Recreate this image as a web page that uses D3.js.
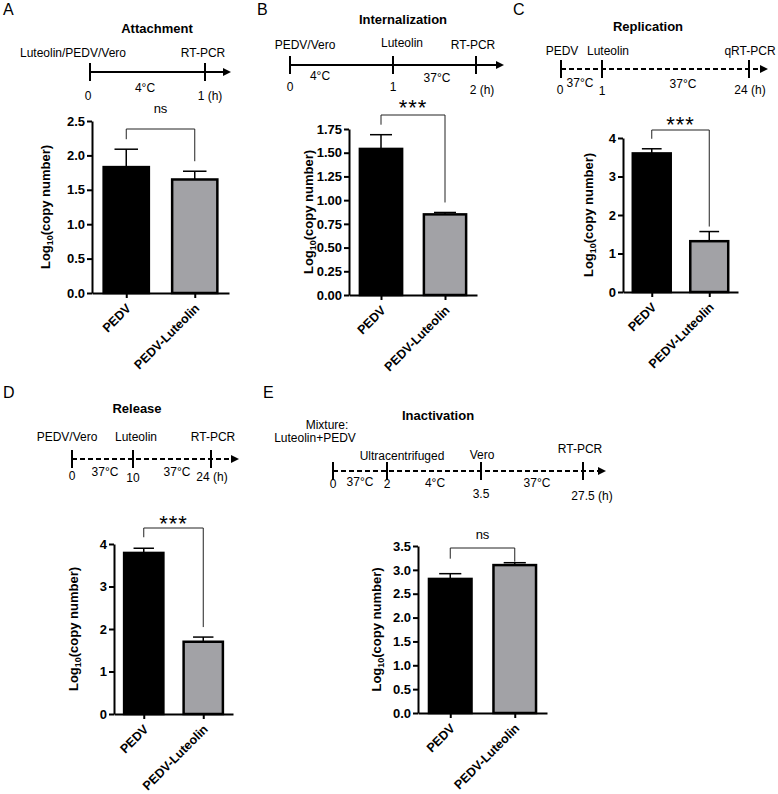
<!DOCTYPE html>
<html><head><meta charset="utf-8">
<script src="https://cdn.jsdelivr.net/npm/d3@7"></script>
<style>
body{margin:0;background:#fff}
svg{display:block}
text{font-family:Arial,"Liberation Sans",sans-serif;fill:#000}
</style>
</head><body>
<svg id="fig" width="778" height="794"></svg>
<script>
// ---------------- DATA ----------------
const categories = ["PEDV", "PEDV-Luteolin"];
const barColors = ["#000000", "#a2a2a6"];

const attachmentMean = [1.83, 1.65];
const attachmentErr  = [0.26, 0.12];
const attachmentTicks = [0, 0.5, 1.0, 1.5, 2.0, 2.5];

const internalizationMean = [1.54, 0.85];
const internalizationErr  = [0.15, 0.02];
const internalizationTicks = [0, 0.25, 0.5, 0.75, 1.0, 1.25, 1.5, 1.75];

const replicationMean = [3.60, 1.32];
const replicationErr  = [0.12, 0.25];
const replicationTicks = [0, 1, 2, 3, 4];

const releaseMean = [3.79, 1.70];
const releaseErr  = [0.11, 0.11];
const releaseTicks = [0, 1, 2, 3, 4];

const inactivationMean = [2.81, 3.10];
const inactivationErr  = [0.11, 0.05];
const inactivationTicks = [0, 0.5, 1.0, 1.5, 2.0, 2.5, 3.0, 3.5];

const panelLetters = ["A", "B", "C", "D", "E"];
const panelTitles = ["Attachment", "Internalization", "Replication", "Release", "Inactivation"];
const significance = ["ns", "***", "***", "***", "ns"];

// timeline texts
const tlA = ["Luteolin/PEDV/Vero", "RT-PCR", "0", "4°C", "1 (h)"];
const tlB = ["PEDV/Vero", "Luteolin", "RT-PCR", "0", "4°C", "1", "37°C", "2 (h)"];
const tlC = ["PEDV", "Luteolin", "qRT-PCR", "0", "37°C", "1", "37°C", "24 (h)"];
const tlD = ["PEDV/Vero", "Luteolin", "RT-PCR", "0", "37°C", "10", "37°C", "24 (h)"];
const tlE = ["Mixture:", "Luteolin+PEDV", "Ultracentrifuged", "Vero", "RT-PCR", "0", "37°C", "2", "4°C", "3.5", "37°C", "27.5 (h)"];

// ---------------- LAYOUT ----------------
const svg = d3.select("#fig");

const letterPos = [[3,15],[257,15],[513,15],[3,398],[263,398]];

const timelineLayouts = [
  {y:72, xs:90, xe:231, ticks:[90,205], dashed:false, title:[157,33],
   pos:[[73,57],[203,57],[88,100],[145,92],[210,100]]},
  {y:65, xs:290, xe:504, ticks:[290,393,476], dashed:false, title:[403,24],
   pos:[[305,49],[402,47],[473,49],[290,91],[320,80],[393,91],[437,82],[482,94]]},
  {y:69, xs:561, xe:768, ticks:[561,602,749], dashed:true, title:[648,31],
   pos:[[562,55],[608,55],[750,55],[560,94],[580,87],[602,95],[683,88],[750,94]]},
  {y:459, xs:72, xe:239, ticks:[72,133,211], dashed:true, title:[137,413],
   pos:[[67,441],[136,441],[213,441],[72,480],[105,476],[133,482],[177,476],[212,481]]},
  {y:471, xs:333, xe:606, ticks:[333,387,481,583], dashed:true, title:[438,420],
   pos:[[327,429],[315,442],[402,460],[482,459],[580,453],[333,488],[360,486],[387,488],[435,487],[481,498],[537,487],[592,500]]}
];
const timelineTexts = [tlA, tlB, tlC, tlD, tlE];

const chartLayouts = [
  {x0:92, x1:229, y0:293, yTop:121, labelX:50, fmt:".1f", brY:129, gapL:10, gapR:10, sigY:113, sigSize:13},
  {x0:349, x1:477, y0:295, yTop:129, labelX:313, fmt:".2f", brY:115, gapL:10, gapR:10, sigY:115, sigSize:22},
  {x0:623, x1:738, y0:292, yTop:138, labelX:593, fmt:"d", brY:130, gapL:10, gapR:5, sigY:132, sigSize:22},
  {x0:114, x1:233, y0:714, yTop:544, labelX:78, fmt:"d", brY:528, gapL:11, gapR:10, sigY:531, sigSize:22},
  {x0:418, x1:547, y0:713, yTop:546, labelX:381, fmt:".1f", brY:548, gapL:15, gapR:1, sigY:539, sigSize:13}
];
const means = [attachmentMean, internalizationMean, replicationMean, releaseMean, inactivationMean];
const errs = [attachmentErr, internalizationErr, replicationErr, releaseErr, inactivationErr];
const tickSets = [attachmentTicks, internalizationTicks, replicationTicks, releaseTicks, inactivationTicks];

// ---------------- DRAW ----------------
panelLetters.forEach((L, i) => {
  svg.append("text").attr("x", letterPos[i][0]).attr("y", letterPos[i][1])
    .attr("font-size", 16).text(L);
});

function drawTimeline(lay, texts, title) {
  const g = svg.append("g");
  g.append("line").attr("x1", lay.xs).attr("x2", lay.xe - 6).attr("y1", lay.y).attr("y2", lay.y)
    .attr("stroke", "#000").attr("stroke-width", 2)
    .attr("stroke-dasharray", lay.dashed ? "5,3" : null);
  g.append("path")
    .attr("d", `M${lay.xe},${lay.y} L${lay.xe-8},${lay.y-4} L${lay.xe-8},${lay.y+4} Z`)
    .attr("fill", "#000");
  lay.ticks.forEach(t => {
    g.append("line").attr("x1", t).attr("x2", t).attr("y1", lay.y - 9).attr("y2", lay.y + 9)
      .attr("stroke", "#000").attr("stroke-width", 2);
  });
  g.append("text").attr("x", lay.title[0]).attr("y", lay.title[1])
    .attr("text-anchor", "middle").attr("font-size", 13).attr("font-weight", "bold").text(title);
  texts.forEach((t, k) => {
    g.append("text").attr("x", lay.pos[k][0]).attr("y", lay.pos[k][1])
      .attr("text-anchor", "middle").attr("font-size", 12).text(t);
  });
}

function drawChart(lay, mean, err, ticks, sig) {
  const g = svg.append("g");
  const y = d3.scaleLinear().domain([0, ticks[ticks.length - 1]]).range([lay.y0, lay.yTop]);
  const x = d3.scalePoint().domain(categories).range([lay.x0, lay.x1]).padding(0.5);
  const bw = x.step() * 0.66;

  // bars
  g.selectAll("rect.bar").data(categories).join("rect")
    .attr("x", d => x(d) - bw / 2)
    .attr("y", (d, i) => y(mean[i]))
    .attr("width", bw)
    .attr("height", (d, i) => y(0) - y(mean[i]))
    .attr("fill", (d, i) => barColors[i])
    .attr("stroke", "#000").attr("stroke-width", 2.5);

  // error bars (upper only)
  categories.forEach((c, i) => {
    const cx = x(c), top = y(mean[i] + err[i]);
    g.append("line").attr("x1", cx).attr("x2", cx).attr("y1", y(mean[i])).attr("y2", top)
      .attr("stroke", "#000").attr("stroke-width", 1.5);
    g.append("line").attr("x1", cx - bw * 0.26).attr("x2", cx + bw * 0.26).attr("y1", top).attr("y2", top)
      .attr("stroke", "#000").attr("stroke-width", 1.5);
  });

  // y axis
  const ya = g.append("g").attr("transform", `translate(${lay.x0},0)`)
    .call(d3.axisLeft(y).tickValues(ticks).tickFormat(d3.format(lay.fmt)).tickSize(5).tickSizeOuter(0).tickPadding(2));
  ya.select(".domain").attr("stroke-width", 2);
  ya.selectAll(".tick line").attr("stroke-width", 2);
  ya.selectAll(".tick text").attr("font-size", 13).attr("font-weight", "bold")
    .attr("font-family", "Arial, 'Liberation Sans', sans-serif").attr("fill", "#000");

  // x axis
  const xa = g.append("g").attr("transform", `translate(0,${lay.y0})`)
    .call(d3.axisBottom(x).tickSize(5).tickSizeOuter(0));
  xa.select(".domain").attr("stroke-width", 2);
  xa.selectAll(".tick line").attr("stroke-width", 2);
  xa.selectAll(".tick text").attr("font-size", 12.5).attr("font-weight", "bold")
    .attr("font-family", "Arial, 'Liberation Sans', sans-serif").attr("fill", "#000")
    .attr("x", 0).attr("y", 0).attr("dy", 0)
    .attr("text-anchor", "end")
    .attr("transform", "translate(5,16) rotate(-45)");

  // y label
  const mid = (lay.y0 + lay.yTop) / 2;
  const yl = g.append("text").attr("transform", `translate(${lay.labelX},${mid}) rotate(-90)`)
    .attr("text-anchor", "middle").attr("font-size", 13).attr("font-weight", "bold");
  yl.append("tspan").text("Log");
  yl.append("tspan").attr("font-size", 9).attr("dy", 3).text("10");
  yl.append("tspan").attr("dy", -3).text("(copy number)");

  // significance bracket
  const xl = x(categories[0]), xr = x(categories[1]);
  const legL = y(mean[0] + err[0]) - lay.gapL;
  const legR = y(mean[1] + err[1]) - lay.gapR;
  g.append("path")
    .attr("d", `M${xl},${legL} L${xl},${lay.brY} L${xr},${lay.brY} L${xr},${legR}`)
    .attr("fill", "none").attr("stroke", "#222").attr("stroke-width", 1);
  g.append("text").attr("x", (xl + xr) / 2).attr("y", lay.sigY)
    .attr("text-anchor", "middle").attr("font-size", lay.sigSize)
    .attr("letter-spacing", sig === "***" ? 1 : 0).text(sig);
}

for (let i = 0; i < 5; i++) {
  drawTimeline(timelineLayouts[i], timelineTexts[i], panelTitles[i]);
  drawChart(chartLayouts[i], means[i], errs[i], tickSets[i], significance[i]);
}
</script>
</body></html>
